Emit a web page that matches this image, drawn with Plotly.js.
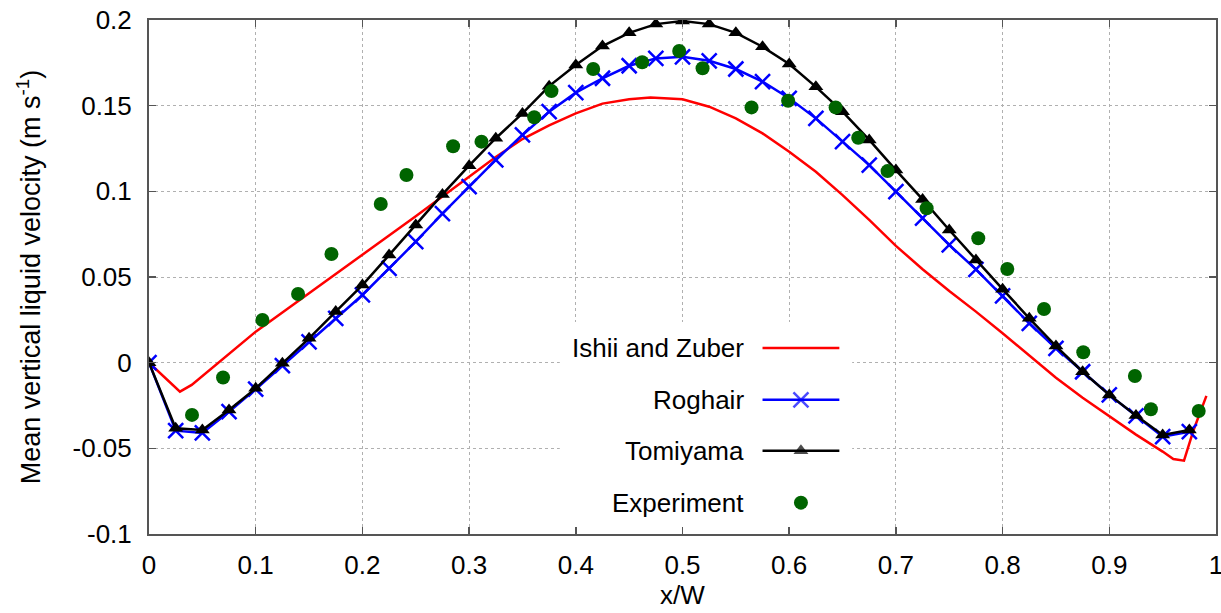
<!DOCTYPE html>
<html>
<head>
<meta charset="utf-8">
<script src="https://cdn.plot.ly/plotly-3.0.1.min.js"></script>
<style>
  html, body { margin: 0; padding: 0; background: #fff; }
  #chart { width: 1221px; height: 613px; }
</style>
</head>
<body>
<div id="chart"></div>
<script>
// ---- data ----
const xSim = [0, 0.025, 0.05, 0.075, 0.1, 0.125, 0.15, 0.175, 0.2, 0.225,
              0.25, 0.275, 0.3, 0.325, 0.35, 0.375, 0.4, 0.425, 0.45, 0.475,
              0.5, 0.525, 0.55, 0.575, 0.6, 0.625, 0.65, 0.675, 0.7, 0.725,
              0.75, 0.775, 0.8, 0.825, 0.85, 0.875, 0.9, 0.925, 0.95, 0.975];

const roghair = [0, -0.0397, -0.041, -0.0286, -0.0155, -0.0017, 0.0122, 0.0259, 0.0395, 0.055,
                 0.0706, 0.087, 0.1027, 0.1183, 0.1329, 0.1465, 0.1576, 0.166, 0.1733, 0.1776,
                 0.1785, 0.1762, 0.1714, 0.164, 0.1543, 0.1426, 0.129, 0.1153, 0.0998, 0.0843,
                 0.0687, 0.0545, 0.039, 0.023, 0.0084, -0.0053, -0.0188, -0.031, -0.0432, -0.0403];

const tomiyama = [0, -0.0383, -0.0393, -0.0276, -0.015, -0.0004, 0.0142, 0.0298, 0.0453, 0.0628,
                  0.0803, 0.0982, 0.115, 0.131, 0.1455, 0.1614, 0.1737, 0.1848, 0.1925, 0.1976,
                  0.1994, 0.1976, 0.1925, 0.1844, 0.1743, 0.161, 0.1465, 0.13, 0.1124, 0.0953,
                  0.0774, 0.0599, 0.0429, 0.0259, 0.0097, -0.0053, -0.0188, -0.0309, -0.0422, -0.0393];

const xIshii = [0, 0.029, 0.04, 0.1, 0.15, 0.2, 0.25, 0.275, 0.3, 0.325,
                0.35, 0.375, 0.4, 0.425, 0.45, 0.47, 0.5, 0.525, 0.55, 0.575,
                0.6, 0.625, 0.65, 0.675, 0.7, 0.725, 0.75, 0.775, 0.8, 0.825,
                0.85, 0.875, 0.9, 0.925, 0.95, 0.96, 0.97, 0.979, 0.991];
const ishii = [0, -0.0169, -0.013, 0.0181, 0.0405, 0.0628, 0.0855, 0.097, 0.1085, 0.1200,
               0.1305, 0.1385, 0.1455, 0.1512, 0.1538, 0.1548, 0.1537, 0.1494, 0.1426, 0.1338,
               0.1231, 0.1114, 0.0978, 0.0833, 0.0682, 0.0545, 0.0418, 0.0298, 0.0172, 0.0040,
               -0.0088, -0.0205, -0.0315, -0.0420, -0.0519, -0.0562, -0.0572, -0.0393, -0.0194];

const xExp = [0.0403, 0.0694, 0.1063, 0.1397, 0.171, 0.2172, 0.2413, 0.285, 0.3116, 0.361,
              0.3772, 0.4163, 0.4622, 0.4969, 0.5188, 0.5647, 0.599, 0.6435, 0.6647, 0.6922,
              0.7288, 0.7772, 0.8044, 0.8388, 0.8756, 0.924, 0.939, 0.9838];
const experiment = [-0.0305, -0.0087, 0.0249, 0.0401, 0.0634, 0.0926, 0.1095, 0.1263, 0.129, 0.1432,
                    0.1585, 0.1714, 0.1753, 0.1819, 0.1718, 0.149, 0.1529, 0.149, 0.1313, 0.1118,
                    0.0901, 0.0726, 0.0547, 0.0313, 0.0061, -0.0078, -0.0272, -0.0282];

const seriesNames = ["Ishii and Zuber", "Roghair", "Tomiyama", "Experiment"];
const xTickVals = [0, 0.1, 0.2, 0.3, 0.4, 0.5, 0.6, 0.7, 0.8, 0.9, 1];
const xTickText = ["0", "0.1", "0.2", "0.3", "0.4", "0.5", "0.6", "0.7", "0.8", "0.9", "1"];
const yTickVals = [-0.1, -0.05, 0, 0.05, 0.1, 0.15, 0.2];
const yTickText = ["-0.1", "-0.05", "0", "0.05", "0.1", "0.15", "0.2"];

// ---- styles ----
const FONT = "Liberation Sans, Arial, Helvetica, sans-serif";
const RED = "#ff0000", BLUE = "#0000ff", BLACK = "#000000", GREEN = "#006400";
const blueMarker = {symbol: "x-thin", size: 15, color: BLUE, line: {color: BLUE, width: 2.5}};
const blackMarker = {symbol: "triangle-up", size: 13, color: BLACK, line: {width: 0}};
const greenMarker = {symbol: "circle", size: 14, color: GREEN, line: {width: 0}};

// legend placement (paper fractions of the plot area)
const legRows = [0.362, 0.261, 0.162, 0.061];
const legX0 = 0.575, legXm = 0.611, legX1 = 0.647, legTextX = 0.5595;
const legBox = {x0: 0.385, x1: 0.659, y0: 0.0, y1: 0.4125};

const traces = [
  // white legend background (above grid, below data)
  {x: [legBox.x0, legBox.x1, legBox.x1, legBox.x0, legBox.x0],
   y: [legBox.y0, legBox.y0, legBox.y1, legBox.y1, legBox.y0],
   xaxis: "x2", yaxis: "y2", mode: "lines", fill: "toself",
   fillcolor: "#ffffff", line: {width: 0, color: "rgba(0,0,0,0)"},
   hoverinfo: "skip", showlegend: false},
  {x: xIshii, y: ishii, mode: "lines", name: seriesNames[0],
   line: {color: RED, width: 2.5}, showlegend: false},
  {x: xSim, y: roghair, mode: "lines+markers", name: seriesNames[1],
   line: {color: BLUE, width: 2.5}, marker: blueMarker, showlegend: false},
  {x: xSim, y: tomiyama, mode: "lines+markers", name: seriesNames[2],
   line: {color: BLACK, width: 2.5}, marker: blackMarker, showlegend: false},
  {x: xExp, y: experiment, mode: "markers", name: seriesNames[3],
   marker: greenMarker, showlegend: false},
  // legend samples
  {x: [legX0, legX1], y: [legRows[0], legRows[0]], xaxis: "x2", yaxis: "y2",
   mode: "lines", line: {color: RED, width: 2.5}, hoverinfo: "skip", showlegend: false},
  {x: [legX0, legXm, legX1], y: [legRows[1], legRows[1], legRows[1]], xaxis: "x2", yaxis: "y2",
   mode: "lines+markers", line: {color: BLUE, width: 2.5},
   marker: Object.assign({}, blueMarker, {size: [0, 15, 0]}), hoverinfo: "skip", showlegend: false},
  {x: [legX0, legXm, legX1], y: [legRows[2], legRows[2], legRows[2]], xaxis: "x2", yaxis: "y2",
   mode: "lines+markers", line: {color: BLACK, width: 2.5},
   marker: Object.assign({}, blackMarker, {size: [0, 13, 0]}), hoverinfo: "skip", showlegend: false},
  {x: [legXm], y: [legRows[3]], xaxis: "x2", yaxis: "y2",
   mode: "markers", marker: greenMarker, hoverinfo: "skip", showlegend: false}
];

const annotations = seriesNames.map((name, i) => ({
  text: name, xref: "paper", yref: "paper", x: legTextX, y: legRows[i],
  xanchor: "right", yanchor: "middle", showarrow: false,
  font: {family: FONT, size: 26, color: "#000"}
}));

const axisCommon = {
  showline: true, linecolor: "#555555", linewidth: 2, mirror: "ticks",
  ticks: "inside", ticklen: 7, tickwidth: 1.5, tickcolor: "#555555",
  showgrid: true, gridcolor: "#b0b0b0", gridwidth: 1, griddash: "dot",
  zeroline: false, ticklabeloverflow: "allow",
  tickfont: {family: FONT, size: 26, color: "#000"}
};

const layout = {
  width: 1221, height: 613,
  margin: {l: 149, r: 5, t: 20, b: 79, pad: 0},
  paper_bgcolor: "#ffffff", plot_bgcolor: "#ffffff",
  font: {family: FONT, size: 26, color: "#000"},
  showlegend: false,
  xaxis: Object.assign({}, axisCommon, {
    range: [0, 1], tickmode: "array", tickvals: xTickVals, ticktext: xTickText,
    ticklabelstandoff: 7,
    title: {text: "x/W", font: {family: FONT, size: 26, color: "#000"}, standoff: 6}
  }),
  yaxis: Object.assign({}, axisCommon, {
    range: [-0.1, 0.2], tickmode: "array", tickvals: yTickVals, ticktext: yTickText,
    ticklabelstandoff: 10,
    title: {text: "Mean vertical liquid velocity (m s<sup>-1</sup>)",
            font: {family: FONT, size: 27, color: "#000"}, standoff: 24}
  }),
  xaxis2: {overlaying: "x", range: [0, 1], visible: false, fixedrange: true},
  yaxis2: {overlaying: "y", range: [0, 1], visible: false, fixedrange: true},
  annotations: annotations
};

Plotly.newPlot("chart", traces, layout, {displayModeBar: false, staticPlot: true});
</script>
</body>
</html>
